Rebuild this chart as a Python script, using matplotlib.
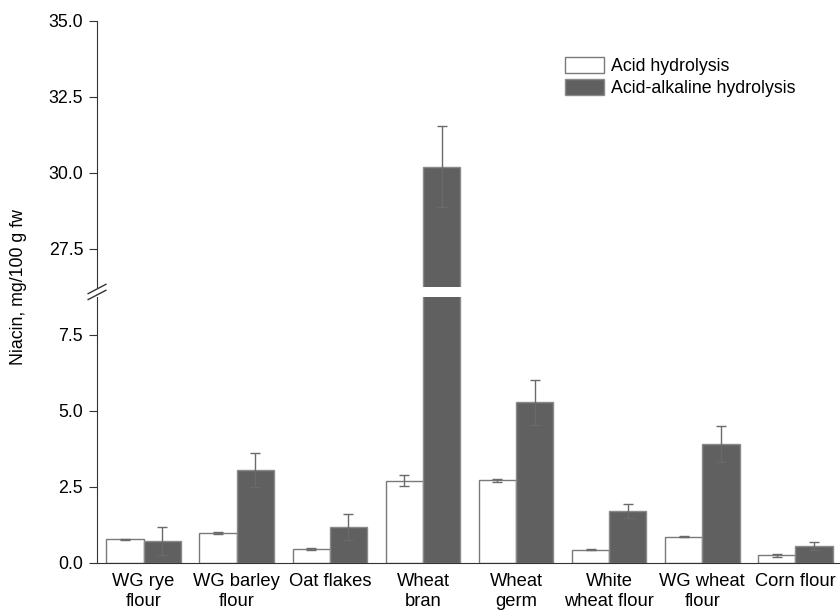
import numpy as np
import matplotlib
matplotlib.use("Agg")
import matplotlib.pyplot as plt

plt.rcParams['font.family'] = ['Liberation Sans', 'DejaVu Sans']

categories = ['WG rye\nflour', 'WG barley\nflour', 'Oat flakes', 'Wheat\nbran',
              'Wheat\ngerm', 'White\nwheat flour', 'WG wheat\nflour', 'Corn flour']
acid = [0.78, 0.98, 0.46, 2.71, 2.72, 0.44, 0.87, 0.25]
acid_err = [0.02, 0.04, 0.02, 0.17, 0.05, 0.02, 0.02, 0.04]
alkaline = [0.72, 3.05, 1.19, 30.2, 5.28, 1.72, 3.92, 0.56]
alkaline_err = [0.47, 0.56, 0.43, 1.33, 0.75, 0.23, 0.6, 0.12]

x = np.arange(len(categories))
w = 0.4

fig = plt.figure(figsize=(8.4, 6.11), dpi=100)
ax_top = fig.add_axes([0.1155, 0.5303, 0.8835, 0.4358])
ax_bot = fig.add_axes([0.1155, 0.0786, 0.8835, 0.4354])

ecol = '#6a6a6a'
for ax in (ax_top, ax_bot):
    ax.bar(x - w / 2, acid, w, yerr=acid_err, color='white', edgecolor='#7a7a7a',
           linewidth=1, error_kw=dict(ecolor=ecol, elinewidth=1, capsize=3.5, capthick=1),
           label='Acid hydrolysis')
    ax.bar(x + w / 2, alkaline, w, yerr=alkaline_err, color='#606060', edgecolor='#8a8a8a',
           linewidth=1, error_kw=dict(ecolor=ecol, elinewidth=1, capsize=3.5, capthick=1),
           label='Acid-alkaline hydrolysis')
    ax.set_xlim(-0.5, 7.47)
    for s in ('top', 'right'):
        ax.spines[s].set_visible(False)
    ax.spines['left'].set_color('#333333')
    ax.tick_params(axis='y', direction='out', length=6, color='#333333', labelsize=12.8, pad=4)

ax_top.set_ylim(26.25, 35)
ax_top.set_yticks([27.5, 30.0, 32.5, 35.0])
ax_top.spines['bottom'].set_visible(False)
ax_top.set_xticks([])

ax_bot.set_ylim(0, 8.75)
ax_bot.set_yticks([0.0, 2.5, 5.0, 7.5])
ax_bot.spines['bottom'].set_color('#333333')
ax_bot.set_xticks(x)
ax_bot.set_xticklabels(categories, fontsize=13.2, linespacing=1.2)
ax_bot.tick_params(axis='x', length=0, pad=7.5)
for ax in (ax_top, ax_bot):
    ax.yaxis.set_major_formatter(matplotlib.ticker.FormatStrFormatter('%.1f'))

# axis break marks
kw = dict(color='#333333', linewidth=1, clip_on=False)
ax_top.plot([-0.012, 0.012], [-0.025, 0.01], transform=ax_top.transAxes, **kw)
ax_bot.plot([-0.012, 0.012], [0.99, 1.025], transform=ax_bot.transAxes, **kw)

fig.text(0.022, 0.53, 'Niacin, mg/100 g fw', rotation=90, va='center', ha='center', fontsize=12.8)

ax_top.legend(loc='upper left', bbox_to_anchor=(0.673, 0.906), bbox_transform=fig.transFigure,
              frameon=False, fontsize=12.8, handlelength=2.15, handleheight=1.0,
              handletextpad=0.4, labelspacing=0.22, borderpad=0, borderaxespad=0)

fig.savefig('out.png', dpi=100)
